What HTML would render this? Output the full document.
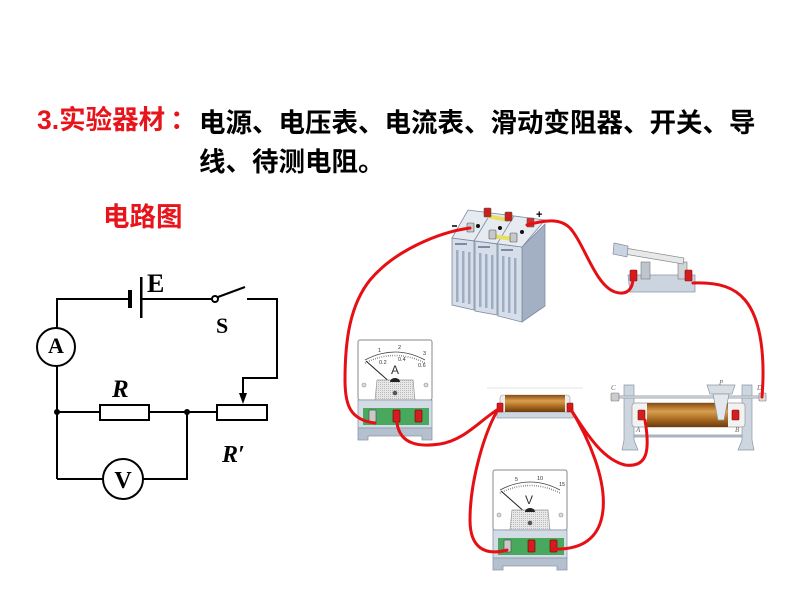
<!DOCTYPE html>
<html><head><meta charset="utf-8"><style>
html,body{margin:0;padding:0;background:#fff;}
body{width:800px;height:600px;position:relative;overflow:hidden;}
.t{position:absolute;font-family:"Liberation Sans","Noto Sans CJK SC",sans-serif;font-weight:bold;font-size:26.5px;line-height:26.5px;white-space:nowrap;}
.r{color:#e8141c;}
.k{color:#000;}
svg{position:absolute;left:0;top:0;}
</style></head><body>
<div class="t r" style="left:37px;top:107px;">3.实验器材<span style="position:relative;left:5px;">：</span></div>
<div class="t k" style="left:199px;top:110px;">电源、电压表、电流表、滑动变阻器、开关、导</div>
<div class="t k" style="left:199px;top:149px;">线、待测电阻。</div>
<div class="t r" style="left:103px;top:204px;">电路图</div>

<svg width="800" height="600" viewBox="0 0 800 600">
<defs>
<linearGradient id="coil" x1="0" y1="0" x2="0" y2="1">
<stop offset="0" stop-color="#8a4a10"/><stop offset="0.35" stop-color="#d9a050"/><stop offset="0.6" stop-color="#b57628"/><stop offset="1" stop-color="#6e3a0c"/>
</linearGradient>
<pattern id="dots" width="2" height="2" patternUnits="userSpaceOnUse"><rect width="2" height="2" fill="#e8e8e8"/><rect width="1" height="1" fill="#bbb"/></pattern>
<g id="meterbody">
<rect x="0" y="0" width="74" height="60" rx="2" fill="#fff" stroke="#8a8a8a" stroke-width="1"/>
<path d="M7,20 Q37,4 67,20" fill="none" stroke="#444" stroke-width="0.8"/>
<path d="M7,23 Q37,8 67,23" fill="none" stroke="#555" stroke-width="1.6" stroke-dasharray="0.6,1.6"/>
<line x1="8" y1="21" x2="34" y2="44" stroke="#222" stroke-width="1"/>
<path d="M19,40 h36 l2,20 h-40 z" fill="url(#dots)" stroke="#999" stroke-width="0.7"/>
<path d="M32,42 a5,4 0 0 1 10,0 z" fill="#222"/>
<circle cx="37" cy="53" r="2.3" fill="#555"/>
<circle cx="6" cy="45" r="2" fill="#ddd" stroke="#888" stroke-width="0.6"/>
<circle cx="68" cy="45" r="2" fill="#ddd" stroke="#888" stroke-width="0.6"/>
<rect x="0" y="60" width="74" height="28" fill="#d3dbe5" stroke="#8a98aa" stroke-width="0.8"/>
<rect x="5" y="68" width="66" height="17" fill="#47a85e"/>
<path d="M0,88 h74 v12 h-10 v-4 h-54 v4 h-10 z" fill="#b5c0cf" stroke="#8a98aa" stroke-width="0.8"/>
<rect x="11" y="70" width="7" height="12" rx="1" fill="#c9c9c9" stroke="#555" stroke-width="0.7"/>
<rect x="35" y="70" width="7" height="12" rx="1" fill="#d21e1e" stroke="#7a0c0c" stroke-width="0.7"/>
<rect x="57" y="70" width="7" height="12" rx="1" fill="#d21e1e" stroke="#7a0c0c" stroke-width="0.7"/>
</g>
</defs>

<!-- Circuit diagram -->
<g stroke="#000" stroke-width="2" fill="none">
<polyline points="128,299 57,299 57,328"/>
<line x1="142" y1="299" x2="212" y2="299"/>
<line x1="218" y1="297" x2="245" y2="287"/>
<polyline points="247,299 277,299 277,378 243,378 243,394"/>
<line x1="57" y1="366" x2="57" y2="479"/>
<line x1="57" y1="412" x2="100" y2="412"/>
<line x1="149" y1="412" x2="217" y2="412"/>
<polyline points="57,479 103,479"/>
<polyline points="143,479 187,479 187,412"/>
<rect x="100" y="405" width="49" height="15"/>
<rect x="217" y="405" width="50" height="15"/>
<circle cx="56" cy="347" r="19"/>
<circle cx="123" cy="479" r="20"/>
<circle cx="215" cy="299" r="3"/>
</g>
<rect x="128" y="290" width="4" height="18" fill="#000"/>
<rect x="140" y="277" width="2.5" height="41" fill="#000"/>
<polygon points="239,393 247,393 243,404" fill="#000"/>
<circle cx="57" cy="412" r="3" fill="#000"/>
<circle cx="187" cy="412" r="3" fill="#000"/>
<g font-family="Liberation Serif, serif" font-weight="bold" fill="#000">
<text x="147" y="292" font-size="26">E</text>
<text x="216" y="333" font-size="22">S</text>
<text x="56" y="353" font-size="22" text-anchor="middle">A</text>
<text x="123" y="488" font-size="24" text-anchor="middle">V</text>
<text x="112" y="397" font-size="25" font-style="italic">R</text>
<text x="222" y="462" font-size="24" font-style="italic">R′</text>
</g>

<!-- Battery -->
<g stroke="#7d8ba0" stroke-width="0.8">
<polygon points="522,247 545,224 545,306 522,322" fill="#a3b0c4"/>
<polygon points="452,238 474,241 474,310 452,305" fill="#d5dee9"/>
<polygon points="475,241 497,244 497,315 475,311" fill="#d5dee9"/>
<polygon points="498,244 522,247 522,322 498,316" fill="#d5dee9"/>
<polygon points="452,238 468,210 545,220 522,247" fill="#e6ebf1"/>
<line x1="474" y1="241" x2="491" y2="213"/>
<line x1="497" y1="244" x2="514" y2="216"/>
</g>
<g fill="#9fadc2">
<rect x="456" y="250" width="2.5" height="52"/><rect x="462" y="251" width="2.5" height="52"/><rect x="468" y="252" width="2.5" height="52"/>
<rect x="479" y="253" width="2.5" height="54"/><rect x="485" y="254" width="2.5" height="54"/><rect x="491" y="255" width="2.5" height="54"/>
<rect x="502" y="256" width="2.5" height="56"/><rect x="508" y="257" width="2.5" height="56"/><rect x="514" y="258" width="2.5" height="56"/>
</g>
<g fill="#7d8ba0"><rect x="455" y="243" width="12" height="2"/><rect x="478" y="246" width="12" height="2"/><rect x="501" y="249" width="12" height="2"/></g>
<g stroke="#e8e060" stroke-width="4"><line x1="487" y1="216" x2="508" y2="220"/><line x1="492" y1="236" x2="513" y2="239"/></g>
<g stroke="#555" stroke-width="0.6">
<rect x="484" y="208" width="7" height="9" rx="1" fill="#c8201e"/>
<rect x="505" y="212" width="7" height="9" rx="1" fill="#c8201e"/>
<rect x="527" y="218" width="7" height="9" rx="1" fill="#d03030"/>
<rect x="467" y="223" width="7" height="9" rx="1" fill="#c8c8c8"/>
<rect x="489" y="230" width="7" height="9" rx="1" fill="#c8c8c8"/>
<rect x="510" y="233" width="7" height="9" rx="1" fill="#c8c8c8"/>
</g>
<g fill="#111"><circle cx="478" cy="226" r="2"/><circle cx="500" cy="228" r="2"/><circle cx="522" cy="232" r="2"/></g>
<text x="536" y="218" font-family="Liberation Sans, sans-serif" font-weight="bold" font-size="11" fill="#000">+</text>
<line x1="452" y1="226" x2="457" y2="226" stroke="#000" stroke-width="1.5"/>

<!-- Switch -->
<polygon points="628,275 695,275 695,292 630,292" fill="#cbd4df" stroke="#8a98aa" stroke-width="0.8"/>
<rect x="641" y="262" width="9" height="17" fill="#bfc5cc" stroke="#777" stroke-width="0.6"/>
<rect x="678" y="262" width="9" height="17" fill="#d0d4d8" stroke="#777" stroke-width="0.6"/>
<polygon points="625,248 684,258 683,264 624,254" fill="#e6e8ea" stroke="#888" stroke-width="0.7"/>
<polygon points="614,243 628,246 627,257 613,254" fill="#c9d4e2" stroke="#889" stroke-width="0.7"/>
<rect x="630" y="270" width="7" height="11" rx="1" fill="#d21e1e" stroke="#7a0c0c" stroke-width="0.6"/>
<rect x="685" y="270" width="7" height="11" rx="1" fill="#d21e1e" stroke="#7a0c0c" stroke-width="0.6"/>

<!-- Ammeter -->
<g transform="translate(358,340)"><use href="#meterbody"/>
<g font-family="Liberation Sans, sans-serif" font-size="5.5" fill="#333">
<text x="20" y="12">1</text><text x="40" y="9">2</text><text x="65" y="15">3</text>
<text x="21" y="24">0.2</text><text x="40" y="21">0.4</text><text x="60" y="27">0.6</text></g>
<text x="33" y="34" font-family="Liberation Sans, sans-serif" font-size="12" fill="#333">A</text>
</g>
<!-- Voltmeter -->
<g transform="translate(493,470)"><use href="#meterbody"/>
<g font-family="Liberation Sans, sans-serif" font-size="5.5" fill="#333">
<text x="22" y="11">5</text><text x="44" y="10">10</text><text x="66" y="16">15</text></g>
<text x="32" y="34" font-family="Liberation Sans, sans-serif" font-size="12" fill="#333">V</text>
</g>

<!-- Fixed resistor -->
<line x1="487" y1="388" x2="583" y2="388" stroke="#e4e4e4" stroke-width="1"/>
<rect x="497" y="409" width="76" height="9" fill="#cdd6e1" stroke="#8a98aa" stroke-width="0.7"/>
<rect x="500" y="395" width="70" height="17" rx="3" fill="#eee" stroke="#999" stroke-width="0.6"/>
<rect x="505" y="395" width="60" height="17" fill="url(#coil)"/>
<rect x="497" y="403" width="6" height="9" rx="1" fill="#d21e1e" stroke="#7a0c0c" stroke-width="0.6"/>
<rect x="567" y="403" width="6" height="9" rx="1" fill="#d21e1e" stroke="#7a0c0c" stroke-width="0.6"/>

<!-- Rheostat -->
<line x1="630" y1="436" x2="750" y2="436" stroke="#aab4c0" stroke-width="3"/>
<path d="M624,385 h10 v55 l4,10 h-16 l2,-10 z" fill="#cdd5df" stroke="#8a98aa" stroke-width="0.7"/>
<path d="M742,385 h10 v55 l2,10 h-16 l4,-10 z" fill="#cdd5df" stroke="#8a98aa" stroke-width="0.7"/>
<line x1="613" y1="397" x2="766" y2="397" stroke="#9aa4b0" stroke-width="3"/>
<line x1="613" y1="397" x2="766" y2="397" stroke="#eef0f3" stroke-width="1"/>
<rect x="611" y="393" width="8" height="8" rx="1" fill="#ccc" stroke="#777" stroke-width="0.6"/>
<rect x="759" y="393" width="7" height="8" rx="1" fill="#ddd" stroke="#777" stroke-width="0.6"/>
<rect x="632" y="403" width="113" height="24" rx="3" fill="#f2f2f2" stroke="#999" stroke-width="0.7"/>
<rect x="647" y="403" width="81" height="24" fill="url(#coil)"/>
<path d="M707,385 h28 l-3,9 h-22 z" fill="#d8dde3" stroke="#8a98aa" stroke-width="0.7"/>
<path d="M713,394 h16 l-5,26 h-6 z" fill="#e4e8ec" stroke="#8a98aa" stroke-width="0.7"/>
<rect x="638" y="410" width="7" height="10" rx="1" fill="#d21e1e" stroke="#7a0c0c" stroke-width="0.6"/>
<rect x="732" y="410" width="7" height="10" rx="1" fill="#d21e1e" stroke="#7a0c0c" stroke-width="0.6"/>
<g font-family="Liberation Serif, serif" font-style="italic" font-size="7" fill="#666">
<text x="611" y="390">C</text><text x="757" y="390">D</text><text x="719" y="385">P</text>
<text x="636" y="432">A</text><text x="735" y="432">B</text></g>

<!-- Wires -->
<g fill="none" stroke="#e60f14" stroke-width="3" stroke-linecap="round">
<path d="M470,228 C440,232 395,250 370,280 C350,305 345,340 345,380 C345,405 350,420 375,423"/>
<path d="M397,423 C400,445 420,447 440,444 C465,440 480,420 500,408"/>
<path d="M499,408 C485,430 470,480 470,520 C470,548 485,556 507,550"/>
<path d="M570,408 C590,440 606,480 603,510 C600,540 580,550 553,549"/>
<path d="M570,408 C590,440 605,460 625,465 C648,468 650,450 645,420"/>
<path d="M762,397 C765,360 762,320 745,300 C735,288 720,282 693,283"/>
<path d="M527,225 C545,220 560,218 570,228 C585,245 595,285 615,292 C628,296 633,288 633,278"/>
</g>
</svg>
</body></html>
